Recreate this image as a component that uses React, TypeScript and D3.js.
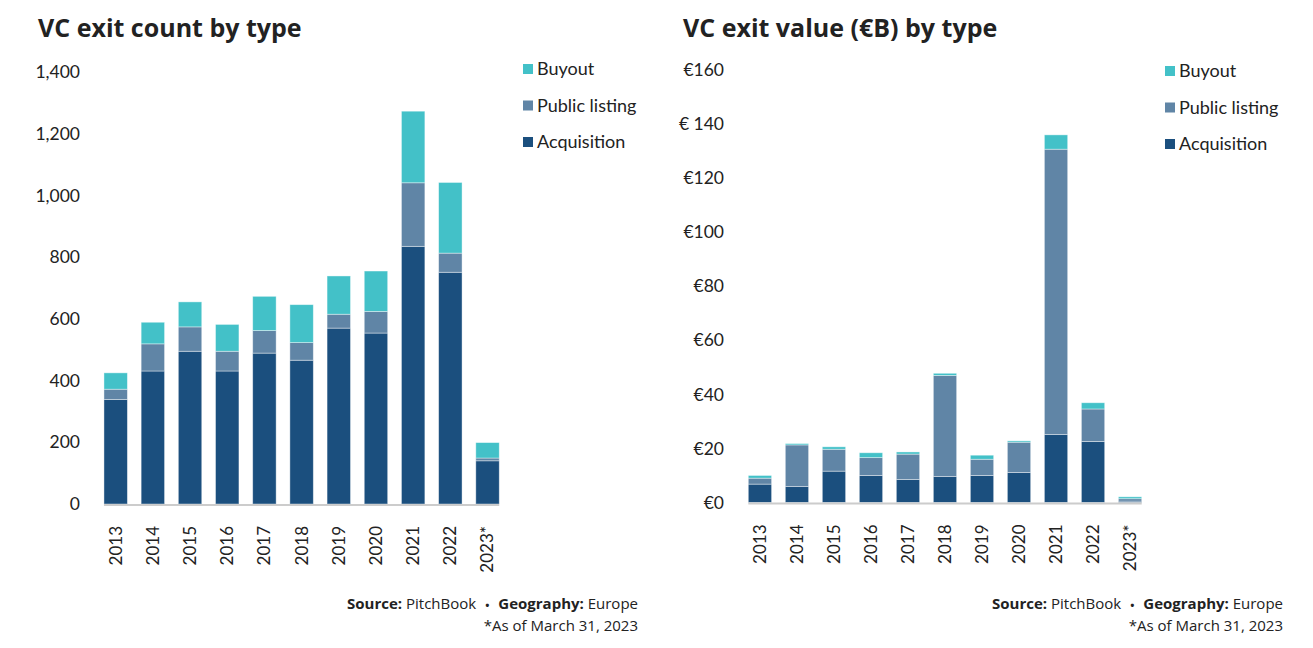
import * as d3 from "d3";

const years = ["2013", "2014", "2015", "2016", "2017", "2018", "2019", "2020", "2021", "2022", "2023*"];

// exit counts
const countAcquisition = [339, 431, 495, 431, 489, 466, 570, 554, 835, 751, 140];
const countPublic = [33, 88, 79, 64, 73, 57, 45, 70, 206, 62, 9];
const countBuyout = [53, 70, 81, 87, 111, 123, 124, 131, 232, 229, 50];

// exit value (€B)
const valueAcquisition = [6.8, 5.9, 11.6, 10.0, 8.5, 9.6, 10.0, 11.1, 25.2, 22.6, 0.5];
const valuePublic = [2.2, 15.4, 8.1, 6.6, 9.4, 37.4, 6.0, 11.2, 105.5, 12.0, 0.9];
const valueBuyout = [1.0, 0.5, 0.9, 1.8, 0.8, 0.8, 1.5, 0.5, 5.3, 2.3, 0.7];

const countTicks = [0, 200, 400, 600, 800, 1000, 1200, 1400];
const valueTicks = [0, 20, 40, 60, 80, 100, 120, 140, 160];
const valueTickLabels = ["€0", "€20", "€40", "€60", "€80", "€100", "€120", "€ 140", "€160"];

const seriesKeys = ["acq", "pub", "buy"];
const seriesNames: Record<string, string> = { buy: "Buyout", pub: "Public listing", acq: "Acquisition" };
const colors: Record<string, string> = { acq: "#1b4f7e", pub: "#6085a6", buy: "#43c1c8" };

const FONT = "Lato, 'Open Sans', sans-serif";
const TITLE_FONT = "'Open Sans', Lato, sans-serif";

type Panel = {
  title: string;
  acq: number[];
  pub: number[];
  buy: number[];
  ticks: number[];
  tickLabels: string[];
  yMax: number;
  x0: number;
  x1: number;
  yTop: number;
  yBase: number;
  labelX: number;
  titleX: number;
  legendX: number;
  legendY: number;
  footerX: number;
};

function Chart({ p }: { p: Panel }) {
  const rows = years.map((y, i) => ({ year: y, acq: p.acq[i], pub: p.pub[i], buy: p.buy[i] }));
  const stacked = d3.stack<any>().keys(seriesKeys)(rows);
  const x = d3.scaleBand().domain(years).range([p.x0, p.x1]).padding(0.37);
  const y = d3.scaleLinear().domain([0, p.yMax]).range([p.yBase, p.yTop]);
  const legendOrder = ["buy", "pub", "acq"];

  return (
    <g>
      <text x={p.titleX} y={37} fontFamily={TITLE_FONT} fontWeight={700} fontSize={25} fill="#222">
        {p.title}
      </text>
      {p.ticks.map((t, i) => (
        <text key={t} x={p.labelX} y={y(t)} dy="0.35em" textAnchor="end" fontFamily={FONT} fontSize={17.5} fill="#222">
          {p.tickLabels[i]}
        </text>
      ))}
      {stacked.map((s) => (
        <g key={s.key} fill={colors[s.key]}>
          {s.map((d, i) => (
            <rect
              key={i}
              x={x(years[i])}
              width={x.bandwidth()}
              y={y(d[1])}
              height={Math.max(0, y(d[0]) - y(d[1]))}
              stroke="#ffffff"
              strokeOpacity={0.5}
              strokeWidth={0.8}
            />
          ))}
        </g>
      ))}
      <line
        x1={x(years[0])}
        x2={(x(years[years.length - 1]) as number) + x.bandwidth()}
        y1={p.yBase + 1}
        y2={p.yBase + 1}
        stroke="#cccccc"
        strokeWidth={2}
      />
      {years.map((yr) => (
        <text
          key={yr}
          transform={`translate(${(x(yr) as number) + x.bandwidth() / 2},${p.yBase + 22}) rotate(-90)`}
          dy="0.35em"
          textAnchor="end"
          fontFamily={FONT}
          fontSize={17}
          fill="#222"
        >
          {yr}
        </text>
      ))}
      {legendOrder.map((k, i) => (
        <g key={k} transform={`translate(${p.legendX},${p.legendY + i * 36.5})`}>
          <rect x={0} y={-5} width={10} height={10} fill={colors[k]} />
          <text x={14} y={0} dy="0.35em" fontFamily={FONT} fontSize={18} fill="#222">
            {seriesNames[k]}
          </text>
        </g>
      ))}
      <text x={p.footerX} y={609} textAnchor="end" fontFamily={TITLE_FONT} fontSize={15} fill="#222">
        <tspan fontWeight={700}>Source:</tspan>
        <tspan> PitchBook</tspan>
        <tspan dx={9} fontWeight={700} fontSize={11}>•</tspan>
        <tspan dx={9} fontWeight={700}>Geography:</tspan>
        <tspan> Europe</tspan>
      </text>
      <text x={p.footerX} y={631} textAnchor="end" fontFamily={TITLE_FONT} fontSize={15} fill="#222">
        *As of March 31, 2023
      </text>
    </g>
  );
}

export default function App() {
  const left: Panel = {
    title: "VC exit count by type",
    acq: countAcquisition,
    pub: countPublic,
    buy: countBuyout,
    ticks: countTicks,
    tickLabels: countTicks.map((t) => d3.format(",")(t)),
    yMax: 1400,
    x0: 90.2,
    x1: 513,
    yTop: 72,
    yBase: 504,
    labelX: 80,
    titleX: 38,
    legendX: 523,
    legendY: 69,
    footerX: 638,
  };
  const right: Panel = {
    title: "VC exit value (€B) by type",
    acq: valueAcquisition,
    pub: valuePublic,
    buy: valueBuyout,
    ticks: valueTicks,
    tickLabels: valueTickLabels,
    yMax: 160,
    x0: 734.6,
    x1: 1155.4,
    yTop: 70,
    yBase: 502.5,
    labelX: 724,
    titleX: 683,
    legendX: 1165,
    legendY: 71,
    footerX: 1283,
  };
  return (
    <div style={{ position: "absolute", left: 0, top: 0 }}>
      <svg width={1313} height={648} style={{ display: "block", background: "#fff" }}>
        <Chart p={left} />
        <Chart p={right} />
      </svg>
    </div>
  );
}
